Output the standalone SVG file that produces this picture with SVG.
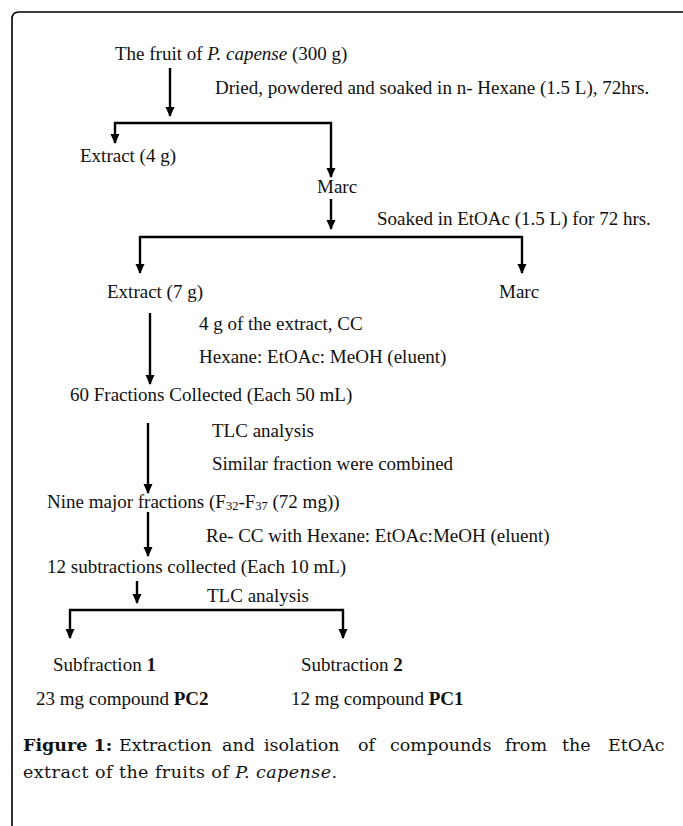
<svg xmlns="http://www.w3.org/2000/svg" width="683" height="826" viewBox="0 0 683 826">
<style>
text{font-family:"Liberation Serif","Times New Roman",serif;font-size:19px;fill:#111}
.cap{font-family:"DejaVu Serif","Liberation Serif",serif;font-size:17.5px}
.ln{stroke:#000;stroke-width:2.4;fill:none}
.ar{stroke:#000;stroke-width:2.4;fill:none;marker-end:url(#ah)}
</style>
<defs>
<marker id="ah" viewBox="0 0 10 10" refX="9" refY="5" markerWidth="10" markerHeight="10" markerUnits="userSpaceOnUse" orient="auto">
<path d="M0,0.5 L10,5 L0,9.5 Z" fill="#000"/>
</marker>
</defs>
<rect width="683" height="826" fill="#fff"/>
<path d="M12,826 L12,19 Q12,12 19,12 L683,12" stroke="#000" stroke-width="1.6" fill="none"/>
<g id="connectors">
<line class="ar" x1="170" y1="68" x2="170" y2="116"/>
<line class="ln" x1="114" y1="123" x2="332" y2="123"/>
<line class="ar" x1="115" y1="122" x2="115" y2="143"/>
<line class="ar" x1="331" y1="122" x2="331" y2="177"/>
<line class="ar" x1="331" y1="199" x2="331" y2="229"/>
<line class="ln" x1="139" y1="237" x2="523" y2="237"/>
<line class="ar" x1="140" y1="236" x2="140" y2="273"/>
<line class="ar" x1="522" y1="236" x2="522" y2="273"/>
<line class="ar" x1="150" y1="313" x2="150" y2="384"/>
<line class="ar" x1="148" y1="423" x2="148" y2="493"/>
<line class="ar" x1="148" y1="512" x2="148" y2="556"/>
<line class="ar" x1="137" y1="581" x2="137" y2="603"/>
<line class="ln" x1="69" y1="610" x2="344" y2="610"/>
<line class="ar" x1="70" y1="609" x2="70" y2="638"/>
<line class="ar" x1="343" y1="609" x2="343" y2="638"/>
</g>
<g id="n-fruit"><text x="115" y="60" font-size="18.7">The fruit of <tspan font-style="italic">P. capense</tspan> (300 g)</text></g>
<g id="l-dried"><text x="215" y="94">Dried, powdered and soaked in n- Hexane (1.5 L), 72hrs.</text></g>
<g id="n-extract4"><text x="80" y="162">Extract (4 g)</text></g>
<g id="n-marc1"><text x="317" y="193">Marc</text></g>
<g id="l-soaked"><text x="377" y="225">Soaked in EtOAc (1.5 L) for 72 hrs.</text></g>
<g id="n-extract7"><text x="107" y="298">Extract (7 g)</text></g>
<g id="n-marc2"><text x="499" y="298">Marc</text></g>
<g id="l-cc"><text x="199" y="330">4 g of the extract, CC</text><text x="199" y="363">Hexane: EtOAc: MeOH (eluent)</text></g>
<g id="n-60"><text x="70" y="401">60 Fractions Collected (Each 50 mL)</text></g>
<g id="l-tlc1"><text x="212" y="437">TLC analysis</text><text x="212" y="470">Similar fraction were combined</text></g>
<g id="n-nine"><text x="47" y="508">Nine major fractions (F<tspan font-size="12.5" dy="2">32</tspan><tspan dy="-2">-F</tspan><tspan font-size="12.5" dy="2">37</tspan><tspan dy="-2"> (72 mg))</tspan></text></g>
<g id="l-recc"><text x="206" y="542">Re- CC with Hexane: EtOAc:MeOH (eluent)</text></g>
<g id="n-12"><text x="47" y="573">12 subtractions collected (Each 10 mL)</text></g>
<g id="l-tlc2"><text x="207" y="602">TLC analysis</text></g>
<g id="n-sub1"><text x="53" y="671">Subfraction <tspan font-weight="bold">1</tspan></text><text x="36" y="705">23 mg compound <tspan font-weight="bold">PC2</tspan></text></g>
<g id="n-sub2"><text x="301" y="671">Subtraction <tspan font-weight="bold">2</tspan></text><text x="291" y="705">12 mg compound <tspan font-weight="bold">PC1</tspan></text></g>
<g id="caption">
<text class="cap" y="751"><tspan x="23" font-weight="bold">Figure 1:</tspan><tspan x="119">Extraction</tspan><tspan x="222">and</tspan><tspan x="264">isolation</tspan><tspan x="358">of</tspan><tspan x="390">compounds</tspan><tspan x="505">from</tspan><tspan x="562">the</tspan><tspan x="608">EtOAc</tspan></text>
<text class="cap" x="23" y="778" textLength="314" lengthAdjust="spacing">extract of the fruits of <tspan font-style="italic">P. capense</tspan>.</text>
</g>
</svg>
